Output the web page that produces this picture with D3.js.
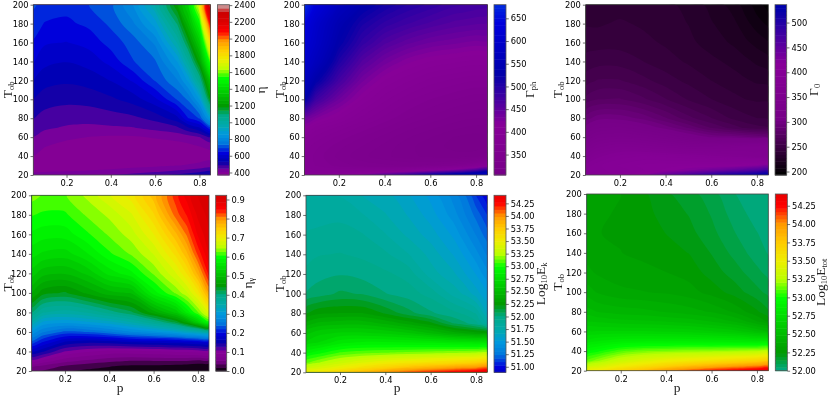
<!DOCTYPE html>
<html>
<head>
<meta charset="utf-8">
<script src="https://cdn.jsdelivr.net/npm/d3@7"></script>
<style>
  html, body { margin: 0; padding: 0; background: #fff; }
  svg { display: block; filter: blur(0.45px); }
  .tick text { font-family: "DejaVu Sans", sans-serif; font-size: 8.3px; fill: #000; }
  .lab { font-family: "Liberation Serif", serif; font-size: 13.5px; fill: #222; }
</style>
</head>
<body>
<div id="chart"></div>
<script>
// grid the values were read on
var pGrid = [0.05, 0.1, 0.2, 0.3, 0.4, 0.5, 0.6, 0.7, 0.75, 0.8, 0.85];
var tGrid = [20, 25, 30, 40, 50, 60, 70, 80, 100, 120, 140, 160, 180, 200];

// one row per tGrid entry, one column per pGrid entry
var etaRows = [
  [415, 420, 430, 440, 452, 465, 480, 500, 512, 525, 540],
  [405, 405, 405, 410, 415, 425, 435, 450, 458, 468, 480],
  [400, 395, 392, 392, 395, 398, 402, 410, 415, 422, 430],
  [410, 398, 388, 383, 380, 380, 380, 383, 385, 388, 392],
  [430, 412, 398, 390, 385, 382, 384, 392, 400, 410, 420],
  [450, 434, 418, 410, 405, 405, 415, 425, 432, 450, 490],
  [472, 458, 447, 443, 446, 450, 465, 484, 530, 570, 690],
  [494, 476, 466, 465, 472, 482, 505, 560, 655, 700, 880],
  [530, 512, 503, 508, 525, 551, 605, 700, 744, 861, 1196],
  [574, 549, 540, 550, 575, 620, 699, 773, 869, 1055, 1350],
  [618, 586, 575, 590, 628, 693, 731, 860, 1020, 1231, 1580],
  [650, 620, 613, 628, 672, 715, 786, 985, 1165, 1370, 1810],
  [677, 653, 646, 665, 705, 770, 880, 1108, 1300, 1520, 2130],
  [702, 680, 670, 695, 725, 820, 975, 1225, 1400, 1700, 2380]
];
var gammaPhRows = [
  [395, 395, 410, 430, 460, 490, 525, 555, 565, 575, 585],
  [385, 380, 378, 380, 385, 395, 412, 435, 450, 470, 490],
  [380, 372, 362, 355, 352, 350, 352, 360, 368, 380, 395],
  [380, 370, 355, 345, 337, 330, 325, 323, 323, 326, 332],
  [385, 375, 360, 350, 340, 330, 323, 318, 316, 316, 320],
  [398, 385, 370, 358, 347, 336, 328, 320, 318, 317, 318],
  [415, 400, 385, 370, 358, 346, 337, 330, 327, 325, 323],
  [440, 425, 405, 385, 370, 358, 348, 340, 337, 335, 333],
  [530, 480, 440, 410, 390, 375, 365, 358, 355, 352, 350],
  [570, 530, 475, 435, 410, 397, 385, 378, 375, 373, 372],
  [600, 570, 505, 462, 437, 420, 410, 405, 402, 400, 400],
  [620, 590, 530, 490, 465, 450, 440, 435, 432, 430, 430],
  [640, 600, 545, 510, 490, 478, 468, 460, 458, 456, 455],
  [680, 630, 570, 535, 515, 500, 490, 480, 478, 475, 472]
];
var gamma0Rows = [
  [380, 382, 395, 420, 445, 470, 495, 515, 522, 530, 536],
  [385, 390, 395, 405, 415, 425, 437, 450, 458, 465, 475],
  [380, 390, 400, 408, 410, 412, 412, 415, 418, 422, 425],
  [360, 375, 388, 392, 390, 385, 380, 375, 372, 368, 365],
  [340, 355, 365, 362, 355, 350, 350, 355, 358, 360, 365],
  [322, 335, 340, 335, 325, 312, 302, 300, 298, 295, 290],
  [305, 315, 318, 310, 300, 288, 275, 265, 260, 257, 255],
  [292, 300, 300, 294, 283, 271, 262, 253, 250, 248, 247],
  [270, 275, 276, 270, 262, 254, 248, 243, 241, 240, 240],
  [258, 262, 262, 257, 251, 246, 241, 237, 235, 233, 232],
  [250, 252, 252, 248, 244, 240, 236, 232, 229, 226, 223],
  [245, 245, 245, 243, 240, 236, 231, 226, 222, 218, 214],
  [240, 240, 242, 240, 237, 234, 228, 222, 216, 210, 205],
  [240, 236, 238, 238, 236, 232, 225, 217, 210, 203, 196]
];
var etaGammaRows = [
  [0.03, 0.035, 0.02, 0.015, 0.01, 0.008, 0.005, 0.004, 0.003, 0.002, 0.001],
  [0.06, 0.05, 0.035, 0.025, 0.02, 0.015, 0.015, 0.012, 0.01, 0.008, 0.006],
  [0.1, 0.085, 0.06, 0.05, 0.04, 0.035, 0.035, 0.035, 0.035, 0.03, 0.03],
  [0.165, 0.15, 0.11, 0.095, 0.085, 0.085, 0.09, 0.095, 0.095, 0.1, 0.1],
  [0.235, 0.205, 0.165, 0.155, 0.16, 0.17, 0.175, 0.18, 0.185, 0.19, 0.19],
  [0.29, 0.26, 0.235, 0.24, 0.255, 0.275, 0.29, 0.31, 0.33, 0.34, 0.35],
  [0.35, 0.31, 0.3, 0.31, 0.325, 0.35, 0.385, 0.43, 0.47, 0.53, 0.6],
  [0.405, 0.37, 0.36, 0.37, 0.395, 0.42, 0.47, 0.52, 0.575, 0.625, 0.685],
  [0.48, 0.45, 0.44, 0.465, 0.49, 0.5, 0.58, 0.63, 0.66, 0.71, 0.79],
  [0.525, 0.505, 0.5, 0.52, 0.56, 0.585, 0.63, 0.68, 0.72, 0.78, 0.855],
  [0.56, 0.55, 0.545, 0.57, 0.605, 0.63, 0.665, 0.725, 0.77, 0.835, 0.885],
  [0.585, 0.58, 0.58, 0.605, 0.63, 0.655, 0.7, 0.77, 0.815, 0.87, 0.9],
  [0.61, 0.605, 0.605, 0.63, 0.65, 0.68, 0.735, 0.82, 0.85, 0.89, 0.91],
  [0.635, 0.625, 0.625, 0.65, 0.68, 0.71, 0.765, 0.84, 0.875, 0.905, 0.92]
];
var logEkRows = [
  [53.5, 53.55, 53.7, 53.85, 54.0, 54.12, 54.22, 54.3, 54.33, 54.37, 54.41],
  [53.28, 53.36, 53.48, 53.6, 53.7, 53.8, 53.88, 53.95, 53.98, 54.0, 54.04],
  [53.12, 53.2, 53.32, 53.42, 53.5, 53.55, 53.6, 53.65, 53.68, 53.71, 53.74],
  [52.9, 52.97, 53.08, 53.12, 53.14, 53.16, 53.18, 53.2, 53.21, 53.22, 53.23],
  [52.66, 52.72, 52.84, 52.88, 52.88, 52.87, 52.86, 52.84, 52.83, 52.82, 52.8],
  [52.55, 52.62, 52.66, 52.66, 52.63, 52.58, 52.5, 52.4, 52.36, 52.32, 52.28],
  [52.38, 52.45, 52.48, 52.48, 52.42, 52.34, 52.25, 52.08, 52.03, 51.97, 51.8],
  [52.22, 52.28, 52.3, 52.3, 52.22, 52.12, 52.03, 51.97, 51.93, 51.87, 51.66],
  [52.02, 52.05, 52.1, 52.08, 52.02, 51.98, 51.92, 51.78, 51.72, 51.63, 51.53],
  [51.96, 51.99, 52.01, 51.99, 51.96, 51.92, 51.77, 51.68, 51.6, 51.52, 51.4],
  [51.92, 51.94, 51.95, 51.93, 51.89, 51.81, 51.71, 51.59, 51.51, 51.41, 51.3],
  [51.88, 51.89, 51.9, 51.88, 51.81, 51.72, 51.63, 51.51, 51.41, 51.31, 51.2],
  [51.85, 51.85, 51.86, 51.81, 51.74, 51.66, 51.56, 51.42, 51.32, 51.22, 51.1],
  [51.81, 51.8, 51.8, 51.73, 51.69, 51.6, 51.5, 51.35, 51.25, 51.1, 50.95]
];
var logEtotRows = [
  [53.5, 53.55, 53.7, 53.85, 54.0, 54.12, 54.22, 54.3, 54.34, 54.38, 54.41],
  [53.28, 53.36, 53.5, 53.6, 53.7, 53.8, 53.88, 53.95, 53.99, 54.02, 54.05],
  [53.12, 53.2, 53.33, 53.42, 53.5, 53.55, 53.6, 53.66, 53.69, 53.72, 53.75],
  [52.95, 53.0, 53.1, 53.15, 53.17, 53.19, 53.2, 53.22, 53.23, 53.24, 53.25],
  [52.78, 52.82, 52.86, 52.87, 52.87, 52.87, 52.86, 52.85, 52.84, 52.83, 52.82],
  [52.67, 52.68, 52.68, 52.68, 52.67, 52.66, 52.63, 52.6, 52.57, 52.53, 52.48],
  [52.58, 52.57, 52.55, 52.54, 52.53, 52.51, 52.48, 52.43, 52.39, 52.34, 52.28],
  [52.5, 52.48, 52.46, 52.45, 52.43, 52.41, 52.38, 52.33, 52.29, 52.25, 52.2],
  [52.41, 52.38, 52.35, 52.34, 52.33, 52.31, 52.27, 52.22, 52.19, 52.16, 52.13],
  [52.35, 52.33, 52.31, 52.3, 52.29, 52.27, 52.22, 52.17, 52.14, 52.11, 52.08],
  [52.32, 52.3, 52.29, 52.28, 52.26, 52.24, 52.19, 52.13, 52.1, 52.07, 52.045],
  [52.31, 52.29, 52.285, 52.27, 52.24, 52.21, 52.16, 52.1, 52.07, 52.05, 52.03],
  [52.31, 52.295, 52.285, 52.26, 52.22, 52.19, 52.14, 52.075, 52.05, 52.03, 52.015],
  [52.33, 52.31, 52.29, 52.25, 52.2, 52.165, 52.115, 52.05, 52.03, 52.02, 52.0]
];

// tick labels
var pTicks = [0.2, 0.4, 0.6, 0.8];
var tTicks = [20, 40, 60, 80, 100, 120, 140, 160, 180, 200];
var etaTicks = d3.range(400, 2401, 200);
var gammaPhTicks = [350, 400, 450, 500, 550, 600, 650];
var gamma0Ticks = [200, 250, 300, 350, 400, 450, 500];
var etaGammaTicks = [0, 0.1, 0.2, 0.3, 0.4, 0.5, 0.6, 0.7, 0.8, 0.9];
var logEkTicks = d3.range(51, 54.26, 0.25);
var logEtotTicks = d3.range(52, 54.26, 0.25);

// nipy_spectral stops
var cmapStops = d3.range(0, 1.01, 0.05);
var cmapColors = ["#000000", "#770088", "#880099", "#0000aa", "#0000dd", "#0077dd", "#0099dd",
  "#00aaaa", "#00aa88", "#009900", "#00bb00", "#00dd00", "#00ff00", "#bbff00", "#eeee00",
  "#ffcc00", "#ff9900", "#ff0000", "#dd0000", "#cc0000", "#cccccc"];
var cmap = d3.scaleLinear().domain(cmapStops).range(cmapColors).clamp(true);

var svgWidth = 830;
var svgHeight = 399;
var bandCount = 50;

var svg = d3.select("#chart").append("svg")
  .attr("width", svgWidth)
  .attr("height", svgHeight);

// map contour grid units to data values
var pIndex = d3.scaleLinear().domain(d3.range(pGrid.length)).range(pGrid).clamp(true);
var tIndex = d3.scaleLinear().domain(d3.range(tGrid.length)).range(tGrid).clamp(true);

// smooths the contour outlines, the grid is coarse
var outline = d3.line().curve(d3.curveCatmullRomClosed.alpha(0.5));

// parts are [text, font size, dy]
function addLabel(x, y, parts) {
  var label = svg.append("text")
    .attr("class", "lab")
    .attr("text-anchor", "middle")
    .attr("transform", "translate(" + x + "," + y + ") rotate(-90)");
  parts.forEach(function (part) {
    var t = label.append("tspan").text(part[0]);
    if (part[1]) t.attr("font-size", part[1]);
    if (part[2]) t.attr("dy", part[2]);
  });
}

function cleanAxis(sel) {
  sel.select(".domain").remove();
  sel.selectAll(".tick line").attr("stroke", "#333").attr("stroke-width", 0.7);
}

function drawPanel(cfg, n) {
  var g = svg.append("g");
  var x = d3.scaleLinear().domain([0.05, 0.85]).range([cfg.box[0], cfg.box[1]]);
  var y = d3.scaleLinear().domain([20, 200]).range([cfg.box[3], cfg.box[2]]);
  var norm = d3.scaleLinear().domain(cfg.norm).range([0, 1]);

  var levels = d3.range(bandCount + 1).map(function (i) {
    return cfg.range[0] + i * (cfg.range[1] - cfg.range[0]) / bandCount;
  });
  var step = levels[1] - levels[0];

  svg.append("clipPath").attr("id", "clip" + n)
    .append("rect")
    .attr("x", cfg.box[0])
    .attr("y", cfg.box[2])
    .attr("width", cfg.box[1] - cfg.box[0])
    .attr("height", cfg.box[3] - cfg.box[2]);

  g.append("rect")
    .attr("x", cfg.box[0])
    .attr("y", cfg.box[2])
    .attr("width", cfg.box[1] - cfg.box[0])
    .attr("height", cfg.box[3] - cfg.box[2])
    .attr("fill", cmap(norm(levels[0] + step / 2)));

  var contours = d3.contours()
    .size([pGrid.length, tGrid.length])
    .thresholds(levels)(d3.merge(cfg.rows));

  function bandPath(d) {
    var out = "";
    d.coordinates.forEach(function (poly) {
      poly.forEach(function (ring) {
        out += outline(ring.slice(0, -1).map(function (c) {
          return [x(pIndex(c[0] - 0.5)), y(tIndex(c[1] - 0.5))];
        }));
      });
    });
    return out;
  }

  g.append("g").attr("clip-path", "url(#clip" + n + ")")
    .selectAll("path")
    .data(contours)
    .enter().append("path")
    .attr("d", bandPath)
    .attr("fill-rule", "evenodd")
    .attr("fill", function (d) { return cmap(norm(d.value + step / 2)); });

  g.append("rect")
    .attr("x", cfg.box[0])
    .attr("y", cfg.box[2])
    .attr("width", cfg.box[1] - cfg.box[0])
    .attr("height", cfg.box[3] - cfg.box[2])
    .attr("fill", "none")
    .attr("stroke", "#444")
    .attr("stroke-width", 0.8);

  var xAxis = d3.axisBottom(x).tickValues(pTicks).tickFormat(d3.format(".1f")).tickSize(2.8).tickPadding(2.5);
  var yAxis = d3.axisLeft(y).tickValues(tTicks).tickSize(2.8).tickPadding(2);

  g.append("g").attr("transform", "translate(0," + cfg.box[3] + ")").call(xAxis).call(cleanAxis);
  g.append("g").attr("transform", "translate(" + cfg.box[0] + ",0)").call(yAxis).call(cleanAxis);

  // colour bar
  var cy = d3.scaleLinear().domain(cfg.range).range([cfg.box[3], cfg.box[2]]);
  g.selectAll("rect.cb")
    .data(levels.slice(0, -1))
    .enter().append("rect")
    .attr("class", "cb")
    .attr("x", cfg.bar[0])
    .attr("width", cfg.bar[1] - cfg.bar[0])
    .attr("y", function (d) { return cy(d + step); })
    .attr("height", function (d) { return cy(d) - cy(d + step) + 0.5; })
    .attr("fill", function (d) { return cmap(norm(d + step / 2)); });

  g.append("rect")
    .attr("x", cfg.bar[0])
    .attr("y", cfg.box[2])
    .attr("width", cfg.bar[1] - cfg.bar[0])
    .attr("height", cfg.box[3] - cfg.box[2])
    .attr("fill", "none")
    .attr("stroke", "#555")
    .attr("stroke-width", 0.8);

  var barAxis = d3.axisRight(cy).tickValues(cfg.ticks).tickFormat(cfg.format).tickSize(2.8).tickPadding(2);
  g.append("g").attr("transform", "translate(" + cfg.bar[1] + ",0)").call(barAxis).call(cleanAxis);

  // axis titles
  addLabel(cfg.tx, (cfg.box[2] + cfg.box[3]) / 2, [["T"], ["ob", 8.5, 1.8]]);
  addLabel(cfg.cx, (cfg.box[2] + cfg.box[3]) / 2, cfg.label);
  if (cfg.px) {
    svg.append("text").attr("class", "lab")
      .attr("text-anchor", "middle")
      .attr("x", cfg.px).attr("y", 392)
      .text("p");
  }
}

var panels = [
  { rows: etaRows, box: [33.3, 210.5, 4.7, 175], bar: [217.5, 229.5], range: [370, 2405], norm: [195, 2420],
    ticks: etaTicks, format: d3.format("d"), tx: 12, cx: 265, label: [["η"]] },
  { rows: gammaPhRows, box: [304.5, 487.5, 4.7, 175], bar: [494, 506], range: [305, 680], norm: [195, 2420],
    ticks: gammaPhTicks, format: d3.format("d"), tx: 284, cx: 534, label: [["Γ"], ["ph", 8.5, 1.8]] },
  { rows: gamma0Rows, box: [585.7, 768.3, 4.7, 175], bar: [775, 786.7], range: [193, 536], norm: [195, 2420],
    ticks: gamma0Ticks, format: d3.format("d"), tx: 562, cx: 818, label: [["Γ"], ["0", 8.5, 1.8]] },
  { rows: etaGammaRows, box: [31.7, 209, 195.3, 371], bar: [215.7, 226.7], range: [0, 0.922], norm: [0, 1],
    ticks: etaGammaTicks, format: d3.format(".1f"), tx: 12, cx: 252, label: [["η"], ["γ", 8.5, 1.8]], px: 120 },
  { rows: logEkRows, box: [306, 487.3, 195.3, 372.3], bar: [494, 506], range: [50.89, 54.41], norm: [50, 55],
    ticks: logEkTicks, format: d3.format(".2f"), tx: 284, cx: 545, label: [["Log"], ["10", 8.5, 1.8], ["E", null, -1.8], ["k", 8.5, 1.8]], px: 397 },
  { rows: logEtotRows, box: [586.7, 768.3, 194, 370.7], bar: [775.3, 787.3], range: [52, 54.41], norm: [50, 55],
    ticks: logEtotTicks, format: d3.format(".2f"), tx: 562, cx: 825, label: [["Log"], ["10", 8.5, 1.8], ["E", null, -1.8], ["tot", 8.5, 1.8]], px: 677 }
];

panels.forEach(drawPanel);
</script>
</body>
</html>
